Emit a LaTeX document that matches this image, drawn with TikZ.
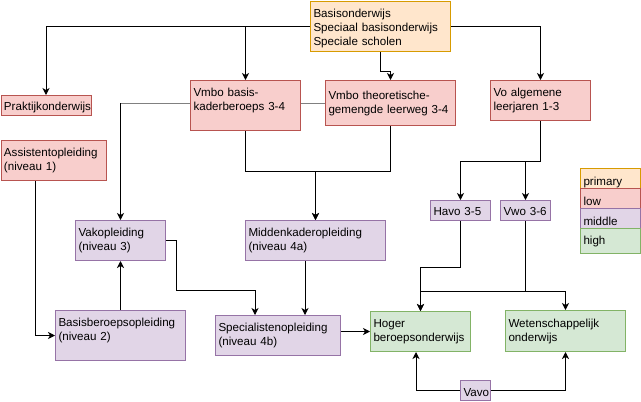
\documentclass[tikz,border=0pt]{standalone}
\usepackage{fontspec}
\setmainfont{Liberation Sans}
\usetikzlibrary{arrows.meta,backgrounds}
\definecolor{orF}{HTML}{FFE6CC}\definecolor{orD}{HTML}{D79B00}
\definecolor{rdF}{HTML}{F8CECC}\definecolor{rdD}{HTML}{B85450}
\definecolor{puF}{HTML}{E1D5E7}\definecolor{puD}{HTML}{9673A6}
\definecolor{grF}{HTML}{D5E8D4}\definecolor{grD}{HTML}{82B366}
\begin{document}
\begin{tikzpicture}[x=1pt,y=-1pt,
  box/.style={draw, line width=1pt, anchor=north west, inner xsep=3pt, inner ysep=0pt,
    align=left, font=\fontsize{11.6}{14}\selectfont},
  prim/.style={box, draw=orD, fill=orF},
  low/.style={box, draw=rdD, fill=rdF},
  mid/.style={box, draw=puD, fill=puF},
  high/.style={box, draw=grD, fill=grF},
  one/.style={text height=#1, text depth=3pt},
  conn/.style={line width=1pt, -{Stealth[length=7pt,width=7pt,inset=2pt]}},
  plain/.style={line width=1pt}]
\useasboundingbox (0,0) rectangle (641,402);
% nodes
\node[prim, text width=134pt, minimum height=50pt, text height=13pt] (basis) at (310,0.5) {Basisonderwijs\\Speciaal basisonderwijs\\Speciale scholen};
\node[low, text width=84pt, minimum height=20pt, one=13.5pt] (prak) at (0.5,95) {Praktijkonderwijs};
\node[low, text width=104pt, minimum height=50pt] (vmbob) at (190,80) {Vmbo basis-\\kaderberoeps 3-4\\[-1pt]\mbox{}};
\node[low, text width=124pt, minimum height=45pt] (vmbot) at (325,80) {Vmbo theoretische-\\gemengde leerweg 3-4};
\node[low, text width=94pt, minimum height=40pt] (vo) at (490,80) {Vo algemene\\leerjaren 1-3};
\node[low, text width=99pt, minimum height=40pt] (assist) at (0.5,140) {Assistentopleiding\\(niveau 1)};
\node[mid, text width=84pt, minimum height=40pt] (vako) at (75,220) {Vakopleiding\\(niveau 3)};
\node[mid, text width=134pt, minimum height=40pt] (midden) at (245,220) {Middenkaderopleiding\\(niveau 4a)};
\node[mid, text width=54pt, minimum height=20pt, one=13pt] (havo) at (430,200) {Havo 3-5};
\node[mid, text width=44pt, minimum height=20pt, one=13pt] (vwo) at (500,200) {Vwo 3-6};
\node[mid, text width=124pt, minimum height=50pt] (basisb) at (55,310) {Basisberoepsopleiding\\(niveau 2)\\[-1pt]\mbox{}};
\node[mid, text width=119pt, minimum height=40pt] (spec) at (215,315) {Specialistenopleiding\\(niveau 4b)};
\node[high, text width=94pt, minimum height=40pt] (hbo) at (370,311) {Hoger\\beroepsonderwijs};
\node[high, text width=114pt, minimum height=41pt] (wo) at (505,310) {Wetenschappelijk\\onderwijs};
\node[mid, text width=24pt, minimum height=20pt, one=14.5pt] (vavo) at (460,380) {Vavo};
% legend
\node[prim, text width=54pt, minimum height=20pt, one=17pt] (lgP) at (580,168) {primary};
\node[low, text width=54pt, minimum height=20pt, one=17pt] (lgL) at (580,188) {low};
\node[mid, text width=54pt, minimum height=20pt, one=17pt] (lgM) at (580,208) {middle};
\node[high, text width=54pt, minimum height=25pt, one=10pt] (lgH) at (580,228) {high};
% connectors
\begin{scope}[on background layer]
\draw[conn] (basis.west) -| (prak.north);
\draw[conn] (basis.west) -| (vmbob.north);
\draw[conn] (basis.south) -- ++(0,20) -| (vmbot.north);
\draw[conn] (basis.east) -| (vo.north);
\draw[plain, gray] (vmbot.west) -- (vmbot.west -| vako.north);
\draw[conn] (vmbot.west -| vako.north) -- (vako.north);
\draw[conn] (vmbob.south) -- ++(0,40) -| (midden.north);
\draw[conn] (vmbot.south) -- ++(0,45) -| (midden.north);
\draw[conn] (vo.south) -- ++(0,40) -| (havo.north);
\draw[conn] (vo.south) -- ++(0,40) -| (vwo.north);
\draw[conn] ([xshift=35pt]assist.south west) |- (basisb.west);
\draw[conn] (basisb.north) -- (vako.south);
\draw[conn] (vako.east) -- ++(10,0) -- ++(0,50) -| ([xshift=40pt]spec.north west);
\draw[conn] ([xshift=60pt]midden.south west) -- ([xshift=90pt]spec.north west);
\draw[conn] (spec.east |- hbo.west) -- (hbo.west);
\draw[conn] (havo.south) -- ++(0,46) -| (hbo.north);
\draw[conn] (vwo.south) -- ++(0,70) -| (wo.north);
\draw[conn] (vwo.south) -- ++(0,70) -| (hbo.north);
\draw[conn] (vavo.west) -| ([xshift=46pt]hbo.south west);
\draw[conn] (vavo.east) -| (wo.south);
\end{scope}
\end{tikzpicture}
\end{document}
